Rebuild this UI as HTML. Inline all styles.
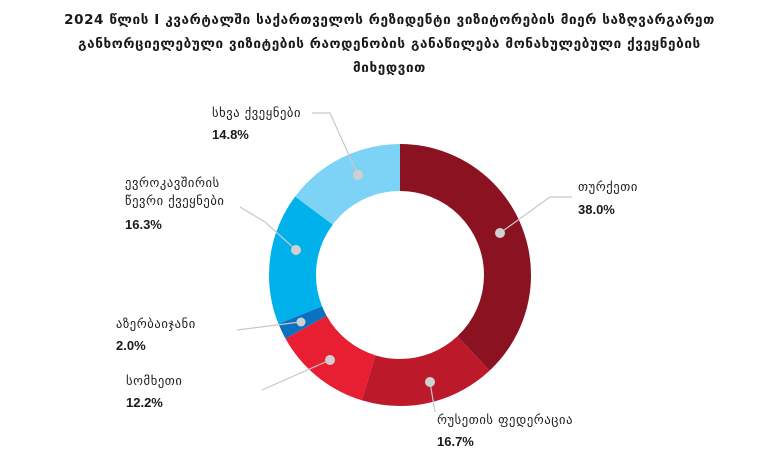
<!DOCTYPE html>
<html><head><meta charset="utf-8"><style>
html,body{margin:0;padding:0;background:#fff;}
body{width:779px;height:470px;position:relative;overflow:hidden;font-family:"DejaVu Sans","Liberation Sans",sans-serif;color:#1a1a1a;}
.t{position:absolute;left:0;width:779px;text-align:center;font-weight:bold;font-size:13.5px;letter-spacing:0.6px;white-space:nowrap;}
.l{position:absolute;font-size:12.5px;letter-spacing:0.6px;white-space:nowrap;}
.p{position:absolute;font-size:13px;font-weight:bold;font-family:"Liberation Sans",sans-serif;}
</style></head><body>
<div class="t" style="top:12px">2024 წლის I კვარტალში  საქართველოს რეზიდენტი ვიზიტორების მიერ საზღვარგარეთ</div>
<div class="t" style="top:36px">განხორციელებული ვიზიტების რაოდენობის განაწილება მონახულებული ქვეყნების</div>
<div class="t" style="top:60px">მიხედვით</div>
<svg width="779" height="470" style="position:absolute;left:0;top:0">
<g transform="rotate(-90 400 275)" fill="none" stroke-width="47">
<circle cx="400" cy="275" r="107.5" stroke="#8b1220" stroke-dasharray="256.67 675.44" stroke-dashoffset="0"/>
<circle cx="400" cy="275" r="107.5" stroke="#bc1a2a" stroke-dasharray="112.8 675.44" stroke-dashoffset="-256.67"/>
<circle cx="400" cy="275" r="107.5" stroke="#e81e33" stroke-dasharray="82.4 675.44" stroke-dashoffset="-369.47"/>
<circle cx="400" cy="275" r="107.5" stroke="#0a72c0" stroke-dasharray="13.5 675.44" stroke-dashoffset="-451.87"/>
<circle cx="400" cy="275" r="107.5" stroke="#00b1ec" stroke-dasharray="110.1 675.44" stroke-dashoffset="-465.37"/>
<circle cx="400" cy="275" r="107.5" stroke="#7dd3f5" stroke-dasharray="100.0 675.44" stroke-dashoffset="-575.47"/>
</g>
<g stroke="#c8c8c8" stroke-width="1.2" fill="none">
<polyline points="312,113 330,113 358,175"/>
<polyline points="572,197 550,197 500,233"/>
<polyline points="240,207 265,222 296,250"/>
<polyline points="237,330 300,322"/>
<polyline points="262,390 330,360"/>
<polyline points="430,382 435,412"/>
</g>
<g fill="#d0d0d0">
<circle cx="358" cy="175" r="5"/><circle cx="500" cy="233" r="5"/><circle cx="296" cy="250" r="5"/>
<circle cx="301" cy="322" r="4.5"/><circle cx="330" cy="360" r="5"/><circle cx="430" cy="382" r="5"/>
</g>
</svg>
<div class="l" style="left:212px;top:105px">სხვა ქვეყნები</div>
<div class="p" style="left:212px;top:127px">14.8%</div>
<div class="l" style="left:578px;top:179px">თურქეთი</div>
<div class="p" style="left:578px;top:202px">38.0%</div>
<div class="l" style="left:125px;top:175px">ევროკავშირის</div>
<div class="l" style="left:125px;top:193px">წევრი ქვეყნები</div>
<div class="p" style="left:125px;top:217px">16.3%</div>
<div class="l" style="left:116px;top:316px">აზერბაიჯანი</div>
<div class="p" style="left:116px;top:338px">2.0%</div>
<div class="l" style="left:126px;top:373px">სომხეთი</div>
<div class="p" style="left:126px;top:395px">12.2%</div>
<div class="l" style="left:437px;top:412px">რუსეთის ფედერაცია</div>
<div class="p" style="left:437px;top:434px">16.7%</div>
</body></html>
